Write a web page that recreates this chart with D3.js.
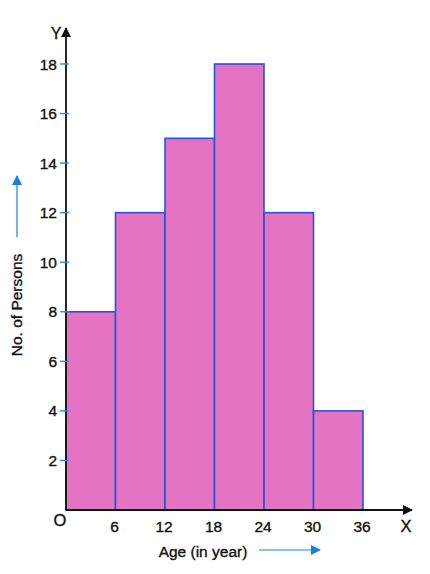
<!DOCTYPE html>
<html>
<head>
<meta charset="utf-8">
<script src="https://cdn.jsdelivr.net/npm/d3@7"></script>
<style>
  body { margin: 0; background: #fff; }
  svg { display: block; font-family: "Liberation Sans", Arial, sans-serif; }
  svg text { stroke: #111; stroke-width: 0.35px; }
</style>
</head>
<body>
<div id="chart"></div>
<script>
// age groups (class limits) and number of persons
let binStarts = [0, 6, 12, 18, 24, 30];
let binEnds = [6, 12, 18, 24, 30, 36];
let persons = [8, 12, 15, 18, 12, 4];
let xTicks = [6, 12, 18, 24, 30, 36];
let yTicks = [2, 4, 6, 8, 10, 12, 14, 16, 18];

let svg = d3.select("#chart").append("svg")
    .attr("width", 430)
    .attr("height", 574);

let x = d3.scaleLinear().domain([0, 36]).range([66, 363]);
let y = d3.scaleLinear().domain([0, 18]).range([510, 64]);

// bars
svg.selectAll(".bar")
    .data(persons)
    .enter().append("rect")
    .attr("class", "bar")
    .attr("x", (d, i) => x(binStarts[i]))
    .attr("y", d => y(d))
    .attr("width", (d, i) => x(binEnds[i]) - x(binStarts[i]))
    .attr("height", d => y(0) - y(d))
    .attr("fill", "#e473c3")
    .attr("stroke", "#1c58dc")
    .attr("stroke-width", 1.6);

// arrow markers
let defs = svg.append("defs");
defs.append("marker")
    .attr("id", "arr")
    .attr("viewBox", "0 0 10 10")
    .attr("refX", 9).attr("refY", 5)
    .attr("markerWidth", 10).attr("markerHeight", 10)
    .attr("markerUnits", "userSpaceOnUse")
    .attr("orient", "auto")
    .append("path").attr("d", "M0,0 L10,5 L0,10 Z").attr("fill", "#111");
defs.append("marker")
    .attr("id", "barr")
    .attr("viewBox", "0 0 10 10")
    .attr("refX", 9).attr("refY", 5)
    .attr("markerWidth", 10).attr("markerHeight", 10)
    .attr("markerUnits", "userSpaceOnUse")
    .attr("orient", "auto")
    .append("path").attr("d", "M0,0 L10,5 L0,10 Z").attr("fill", "#1a7fe0");

// y axis line + ticks
svg.append("line")
    .attr("x1", x(0)).attr("y1", y(0))
    .attr("x2", x(0)).attr("y2", 28)
    .attr("stroke", "#111").attr("stroke-width", 1.8)
    .attr("marker-end", "url(#arr)");

svg.selectAll(".ytick")
    .data(yTicks)
    .enter().append("line")
    .attr("x1", x(0) - 6).attr("x2", x(0) + 3)
    .attr("y1", d => y(d)).attr("y2", d => y(d))
    .attr("stroke", "#2a8de0").attr("stroke-width", 1.4);

svg.selectAll(".ylab")
    .data(yTicks)
    .enter().append("text")
    .attr("x", 57)
    .attr("y", d => y(d))
    .attr("dy", "0.36em")
    .attr("text-anchor", "end")
    .attr("font-size", 15.5)
    .attr("fill", "#111")
    .text(d => d);

// x axis line + labels
svg.append("line")
    .attr("x1", x(0)).attr("y1", y(0))
    .attr("x2", 412).attr("y2", y(0))
    .attr("stroke", "#111").attr("stroke-width", 1.8)
    .attr("marker-end", "url(#arr)");

svg.selectAll(".xlab")
    .data(xTicks)
    .enter().append("text")
    .attr("x", d => x(d) - 1)
    .attr("y", 532)
    .attr("text-anchor", "middle")
    .attr("font-size", 15.5)
    .attr("fill", "#111")
    .text(d => d);

svg.append("text").attr("x", 60).attr("y", 526)
    .attr("text-anchor", "middle").attr("font-size", 16.5).attr("fill", "#111").text("O");
svg.append("text").attr("x", 406).attr("y", 532)
    .attr("text-anchor", "middle").attr("font-size", 16.5).attr("fill", "#111").text("X");
svg.append("text").attr("x", 56).attr("y", 39)
    .attr("text-anchor", "middle").attr("font-size", 16).attr("fill", "#111").text("Y");

// axis titles
svg.append("text")
    .attr("x", 203).attr("y", 557)
    .attr("text-anchor", "middle")
    .attr("font-size", 15.5)
    .attr("fill", "#111")
    .text("Age (in year)");
svg.append("line")
    .attr("x1", 259).attr("y1", 550).attr("x2", 320).attr("y2", 550)
    .attr("stroke", "#1a7fe0").attr("stroke-width", 1.2)
    .attr("marker-end", "url(#barr)");

svg.append("text")
    .attr("transform", "translate(22,305) rotate(-90)")
    .attr("text-anchor", "middle")
    .attr("font-size", 15.5)
    .attr("fill", "#111")
    .text("No. of Persons");
svg.append("line")
    .attr("x1", 17).attr("y1", 237).attr("x2", 17).attr("y2", 176)
    .attr("stroke", "#1a7fe0").attr("stroke-width", 1.2)
    .attr("marker-end", "url(#barr)");
</script>
</body>
</html>
